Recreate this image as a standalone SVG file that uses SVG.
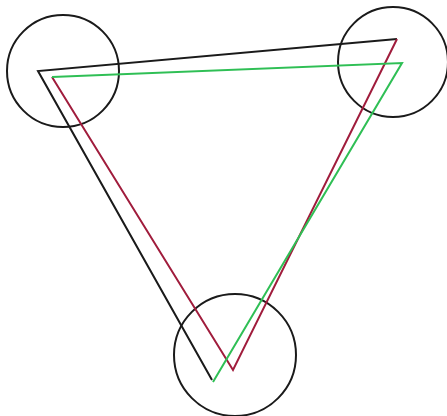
<svg xmlns="http://www.w3.org/2000/svg" width="447" height="416" viewBox="0 0 447 416">
<style>
.c{fill:none;stroke:#1a1a1a;stroke-width:2}
.k{fill:none;stroke:#1a1a1a;stroke-width:2}
.r{fill:none;stroke:#a01c3c;stroke-width:2}
.g{fill:none;stroke:#2fbf55;stroke-width:2}
</style>
<rect width="447" height="416" fill="#fff"/>
<g id="circle-left"><circle class="c" cx="63" cy="71" r="56"/></g>
<g id="circle-right"><circle class="c" cx="393" cy="62" r="55"/></g>
<g id="circle-bottom"><circle class="c" cx="235" cy="355" r="61"/></g>
<g id="connectors">
<polyline class="k" points="397,39 38,71 212,380"/>
<polyline class="r" points="52,77 233,370 397,39"/>
<polyline class="g" points="52,77 402,63 213,382"/>
</g>
</svg>
